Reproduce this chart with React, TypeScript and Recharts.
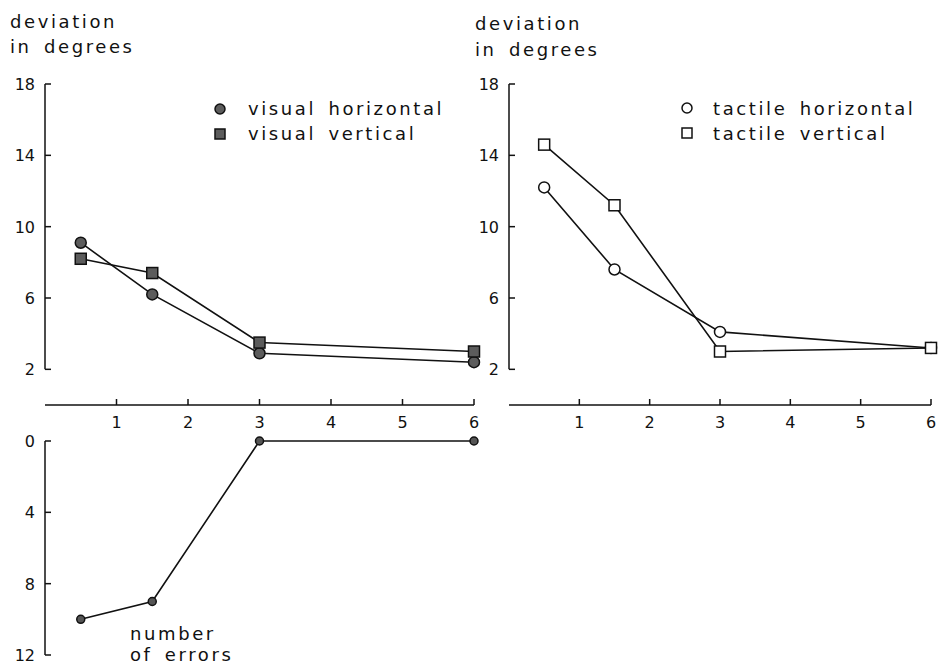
import { LineChart, Line, XAxis, YAxis, ReferenceLine } from "recharts";

// sessions on the x axis
const sessions = [0.5, 1.5, 3, 6];
const xTicks = [1, 2, 3, 4, 5, 6];

// deviation in degrees
const visualHorizontal = [9.1, 6.2, 2.9, 2.4];
const visualVertical = [8.2, 7.4, 3.5, 3.0];
const tactileHorizontal = [12.2, 7.6, 4.1, 3.2];
const tactileVertical = [14.6, 11.2, 3.0, 3.2];
const devTicks = [2, 6, 10, 14, 18];

// number of errors (inverted axis)
const errors = [10, 9, 0, 0];
const errTicks = [0, 4, 8, 12];

const rows = sessions.map((s, i) => ({
  s,
  vh: visualHorizontal[i],
  vv: visualVertical[i],
  th: tactileHorizontal[i],
  tv: tactileVertical[i],
  err: errors[i],
}));

const INK = "#111";
const FONT = "DejaVu Sans";

const YTick = (props: any) => {
  const { x, y, payload } = props;
  return (
    <g>
      <line x1={x} x2={x + 6} y1={y} y2={y} stroke={INK} strokeWidth={1.5} />
      <text x={x - 10} y={y + 6} textAnchor="end" fontSize={16} fontFamily={FONT} fill={INK}>
        {payload.value}
      </text>
    </g>
  );
};

const XTick = (props: any) => {
  const { x, y, payload } = props;
  return (
    <g>
      <line x1={x} x2={x} y1={y - 6} y2={y} stroke={INK} strokeWidth={1.5} />
      <text x={x} y={y + 23} textAnchor="middle" fontSize={16} fontFamily={FONT} fill={INK}>
        {payload.value}
      </text>
    </g>
  );
};

const filledCircle = (r: number, fill: string) => (p: any) => (
  <circle key={`c-${p.index}`} cx={p.cx} cy={p.cy} r={r} fill={fill} stroke={INK} strokeWidth={1.5} />
);
const square = (fill: string) => (p: any) => (
  <rect key={`r-${p.index}`} x={p.cx - 5.5} y={p.cy - 5.5} width={11} height={11} fill={fill} stroke={INK} strokeWidth={1.5} />
);

const DeviationPanel = ({ hKey, vKey, fill, right }: { hKey: string; vKey: string; fill: string; right: number }) => (
  <LineChart width={490} height={440} data={rows} margin={{ top: 84, left: 44, right, bottom: 34 }}>
    <XAxis
      type="number"
      dataKey="s"
      domain={[0, 6]}
      ticks={xTicks}
      height={1}
      tickSize={0}
      tickMargin={0}
      tick={XTick}
      axisLine={{ stroke: INK, strokeWidth: 1.5 }}
      tickLine={false}
    />
    <YAxis
      type="number"
      domain={[0, 18]}
      ticks={devTicks}
      width={1}
      tickSize={0}
      tickMargin={0}
      tick={YTick}
      axisLine={false}
      tickLine={false}
    />
    <ReferenceLine
      segment={[
        { x: 0, y: 2 },
        { x: 0, y: 18 },
      ]}
      stroke={INK}
      strokeWidth={1.5}
    />
    <Line type="linear" dataKey={hKey} stroke={INK} strokeWidth={1.6} dot={filledCircle(5.5, fill)} isAnimationActive={false} />
    <Line type="linear" dataKey={vKey} stroke={INK} strokeWidth={1.6} dot={square(fill)} isAnimationActive={false} />
  </LineChart>
);

const label = { fontFamily: FONT, fontSize: 18, letterSpacing: 2.6, wordSpacing: 4, fill: INK } as const;

export default function App() {
  return (
    <div style={{ position: "absolute", left: 0, top: 0, width: 940, height: 667, background: "#fff" }}>
      <div style={{ position: "absolute", left: 0, top: 0 }}>
        <DeviationPanel hKey="vh" vKey="vv" fill="#5c5c5c" right={16} />
      </div>
      <div style={{ position: "absolute", left: 464, top: 0 }}>
        <DeviationPanel hKey="th" vKey="tv" fill="#fff" right={23} />
      </div>
      <div style={{ position: "absolute", left: 0, top: 420 }}>
        <LineChart width={490} height={247} data={rows} margin={{ top: 21, left: 44, right: 16, bottom: 12 }}>
          <XAxis type="number" dataKey="s" domain={[0, 6]} hide />
          <YAxis
            type="number"
            domain={[0, 12]}
            reversed
            ticks={errTicks}
            width={1}
            tickSize={0}
            tickMargin={0}
            tick={YTick}
            axisLine={{ stroke: INK, strokeWidth: 1.5 }}
            tickLine={false}
          />
          <Line type="linear" dataKey="err" stroke={INK} strokeWidth={1.6} dot={filledCircle(4, "#555")} isAnimationActive={false} />
        </LineChart>
      </div>
      <svg width={940} height={667} style={{ position: "absolute", left: 0, top: 0, pointerEvents: "none" }}>
        <text x={10} y={28} {...label}>deviation</text>
        <text x={10} y={53} {...label}>in degrees</text>
        <text x={475} y={30} {...label}>deviation</text>
        <text x={475} y={56} {...label}>in degrees</text>

        <circle cx={220} cy={109} r={5} fill="#5c5c5c" stroke={INK} strokeWidth={1.5} />
        <rect x={215} y={129} width={10} height={10} fill="#5c5c5c" stroke={INK} strokeWidth={1.5} />
        <text x={248} y={115} {...label}>visual horizontal</text>
        <text x={248} y={140} {...label}>visual vertical</text>

        <circle cx={687} cy={108} r={5} fill="#fff" stroke={INK} strokeWidth={1.5} />
        <rect x={682} y={128} width={10} height={10} fill="#fff" stroke={INK} strokeWidth={1.5} />
        <text x={713} y={115} {...label}>tactile horizontal</text>
        <text x={713} y={140} {...label}>tactile vertical</text>

        <text x={130} y={640} {...label}>number</text>
        <text x={130} y={661} {...label}>of errors</text>
      </svg>
    </div>
  );
}
